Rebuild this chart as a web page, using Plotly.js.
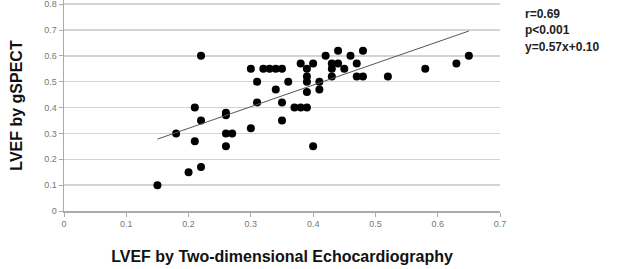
<!DOCTYPE html>
<html>
<head>
<meta charset="utf-8">
<script src="https://cdn.plot.ly/plotly-3.0.1.min.js"></script>
<style>html,body{margin:0;padding:0;background:#fff;}#chart{width:618px;height:269px;}</style>
</head>
<body>
<div id="chart"></div>
<script>
// LVEF by two-dimensional echocardiography (x) vs LVEF by gSPECT (y)
var echoLVEF = [0.15,0.18,0.20,0.21,0.21,0.22,0.22,0.22,0.26,0.26,0.26,0.26,0.27,
  0.30,0.30,0.31,0.31,0.32,0.33,0.34,0.35,0.34,0.35,0.35,0.36,0.37,0.38,0.39,
  0.38,0.40,0.39,0.39,0.39,0.39,0.41,0.41,0.40,0.42,0.44,0.43,0.44,0.43,0.43,
  0.45,0.46,0.47,0.48,0.47,0.48,0.52,0.58,0.63,0.65];
var spectLVEF = [0.10,0.30,0.15,0.40,0.27,0.60,0.35,0.17,0.38,0.37,0.30,0.25,0.30,
  0.55,0.32,0.50,0.42,0.55,0.55,0.55,0.55,0.47,0.42,0.35,0.50,0.40,0.40,0.40,
  0.57,0.57,0.55,0.52,0.50,0.46,0.50,0.47,0.25,0.60,0.62,0.57,0.57,0.55,0.52,
  0.55,0.60,0.57,0.62,0.52,0.52,0.52,0.55,0.57,0.60];
// trend line as drawn in the figure (end points)
var trendX = [0.15, 0.65];
var trendY = [0.278, 0.696];
var statsLines = ["r=0.69", "p<0.001", "y=0.57x+0.10"];
var xTickVals = [0,0.1,0.2,0.3,0.4,0.5,0.6,0.7];
var xTickText = ["0","0.1","0.2","0.3","0.4","0.5","0.6","0.7"];
var yTickVals = [0,0.1,0.2,0.3,0.4,0.5,0.6,0.7,0.8];
var yTickText = ["0","0.1","0.2","0.3","0.4","0.5","0.6","0.7","0.8"];

var font = "Liberation Sans, Arial, sans-serif";
var data = [
  {x: echoLVEF, y: spectLVEF, type: 'scatter', mode: 'markers',
   marker: {color: '#000', size: 8}, hoverinfo: 'none', showlegend: false, cliponaxis: false},
  {x: trendX, y: trendY, type: 'scatter', mode: 'lines',
   line: {color: '#555', width: 1}, hoverinfo: 'none', showlegend: false}
];
var annotations = statsLines.map(function(t, i){
  return {text: '<b>' + t + '</b>', xref: 'paper', yref: 'paper', x: 1.052, y: 0.934 - i*0.078,
    xanchor: 'left', yanchor: 'middle', showarrow: false,
    font: {family: font, size: 12, color: '#222'}};
});
var layout = {
  width: 618, height: 269,
  margin: {l: 63.5, r: 118, t: 0, b: 58},
  paper_bgcolor: '#fff', plot_bgcolor: '#fff',
  font: {family: font},
  xaxis: {range: [0, 0.7], tickvals: xTickVals, ticktext: xTickText,
    ticks: 'outside', ticklen: 4, tickcolor: '#aaa', showline: true, linecolor: '#aaa', linewidth: 1.5,
    showgrid: false, zeroline: false, fixedrange: true,
    tickfont: {family: font, size: 9, color: '#777'},
    title: {text: '<b>LVEF by Two-dimensional Echocardiography</b>', standoff: 22,
      font: {family: font, size: 16, color: '#111'}}},
  yaxis: {range: [0, 0.816], tickvals: yTickVals, ticktext: yTickText, ticklabeloverflow: 'allow',
    ticks: 'outside', ticklen: 4, tickcolor: '#aaa', showline: true, linecolor: '#aaa', linewidth: 1.5,
    showgrid: true, gridcolor: '#d4d4d4', gridwidth: 1.5, zeroline: false, fixedrange: true,
    tickfont: {family: font, size: 9, color: '#777'},
    title: {text: '<b>LVEF by gSPECT</b>', standoff: 17,
      font: {family: font, size: 16, color: '#111'}}},
  annotations: annotations
};
Plotly.newPlot('chart', data, layout, {staticPlot: true, displayModeBar: false});
</script>
</body>
</html>
